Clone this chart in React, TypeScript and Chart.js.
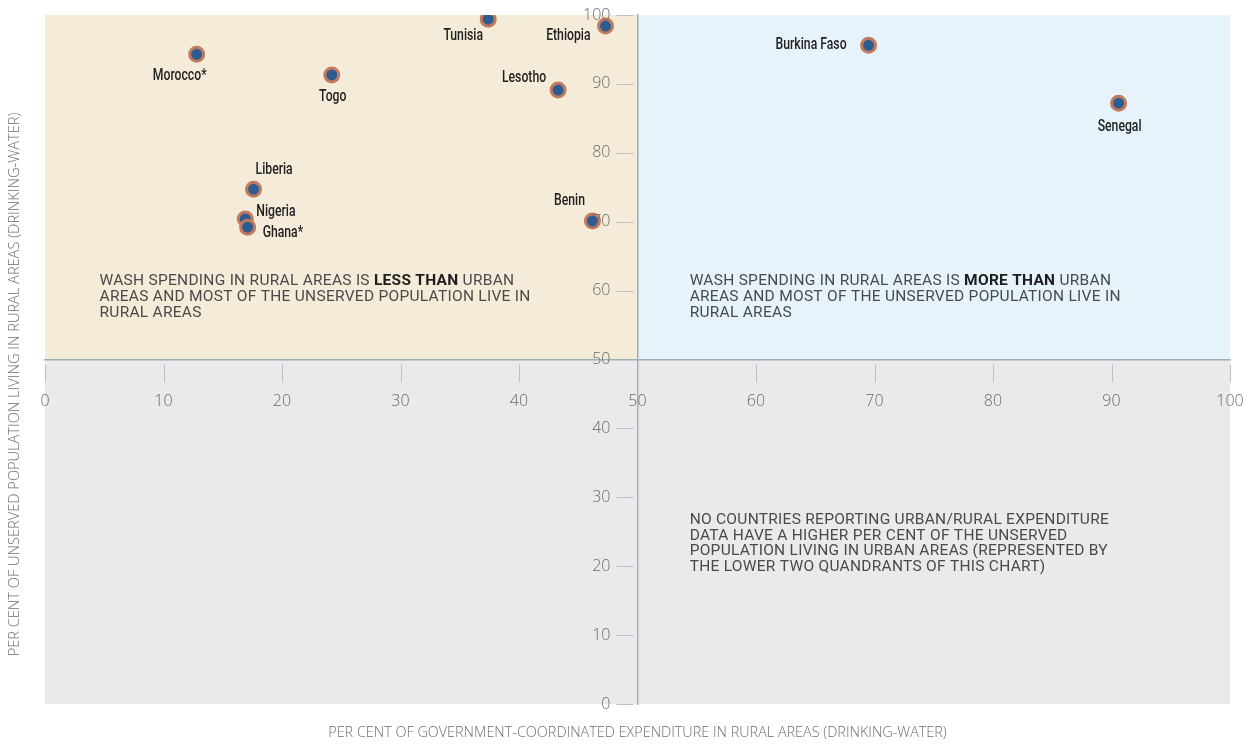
import React, { useEffect, useRef } from 'react';
import { Chart, registerables } from 'chart.js';

Chart.register(...registerables);

// ---- Data ----
const countries = ['Morocco*', 'Togo', 'Liberia', 'Nigeria', 'Ghana*', 'Tunisia', 'Ethiopia', 'Lesotho', 'Benin', 'Burkina Faso', 'Senegal'];
const ruralExpenditure = [12.8, 24.2, 17.6, 16.9, 17.1, 37.4, 47.3, 43.3, 46.2, 69.5, 90.6];
const unservedRural = [94.3, 91.3, 74.7, 70.4, 69.2, 99.4, 98.4, 89.1, 70.1, 95.6, 87.2];
const xTickValues = [0, 10, 20, 30, 40, 50, 60, 70, 80, 90, 100];
const yTickValues = [0, 10, 20, 30, 40, 50, 60, 70, 80, 90, 100];
const xTitle = 'PER CENT OF GOVERNMENT-COORDINATED EXPENDITURE IN RURAL AREAS (DRINKING-WATER)';
const yTitle = 'PER CENT OF UNSERVED POPULATION LIVING IN RURAL AREAS (DRINKING-WATER)';
const noteLeft = [
  [['WASH SPENDING IN RURAL AREAS IS ', false], ['LESS THAN', true], [' URBAN', false]],
  [['AREAS AND MOST OF THE UNSERVED POPULATION LIVE IN', false]],
  [['RURAL AREAS', false]],
];
const noteRight = [
  [['WASH SPENDING IN RURAL AREAS IS ', false], ['MORE THAN', true], [' URBAN', false]],
  [['AREAS AND MOST OF THE UNSERVED POPULATION LIVE IN', false]],
  [['RURAL AREAS', false]],
];
const noteBottom = [
  [['NO COUNTRIES REPORTING URBAN/RURAL EXPENDITURE', false]],
  [['DATA HAVE A HIGHER PER CENT OF THE UNSERVED', false]],
  [['POPULATION LIVING IN URBAN AREAS (REPRESENTED BY', false]],
  [['THE LOWER TWO QUANDRANTS OF THIS CHART)', false]],
];

// ---- Layout of labels (pixel offsets from point, alignment) ----
const labelPlacement: [number, number, CanvasTextAlign][] = [
  [-17, 22, 'center'],
  [1, 22, 'center'],
  [2, -19, 'left'],
  [11, -7, 'left'],
  [15, 6, 'left'],
  [-25, 17, 'center'],
  [-15, 10, 'right'],
  [-12, -12, 'right'],
  [-23, -20, 'center'],
  [-22, 0, 'right'],
  [1, 24, 'center'],
];

const COLORS = {
  beige: '#f4ebd9',
  blue: '#e6f3fa',
  gray: '#eaeaec',
  axis: '#9db2b6',
  tick: '#b9c2c4',
  tickLabel: '#6a6a6a',
  note: '#4a4a4a',
  label: '#222222',
  title: '#6e6e6e',
  pointFill: '#2d5d90',
  pointBorder: '#c27a5e',
};

const LABEL_FONT = 'Roboto, sans-serif';
const NOTE_FONT = 'Roboto, "DejaVu Sans", sans-serif';
const TICK_FONT = '"Open Sans", Lato, sans-serif';

function drawNote(ctx: CanvasRenderingContext2D, lines: any[], x: number, y: number) {
  const size = 15.5;
  const lh = 15.7;
  ctx.textBaseline = 'middle';
  ctx.textAlign = 'left';
  (ctx as any).letterSpacing = '0.27px';
  lines.forEach((segs: any[], i: number) => {
    let cx = x;
    segs.forEach(([txt, bold]: [string, boolean]) => {
      ctx.font = `${bold ? 'bold ' : ''}${size}px ${NOTE_FONT}`;
      ctx.fillStyle = bold ? '#1e1e1e' : COLORS.note;
      ctx.fillText(txt, cx, y + i * lh);
      cx += ctx.measureText(txt).width;
    });
  });
  (ctx as any).letterSpacing = '0px';
}

const quadrantPlugin = {
  id: 'quadrants',
  beforeDraw(chart: any) {
    const { ctx, chartArea, scales } = chart;
    const xs = scales.x, ys = scales.y;
    const midX = xs.getPixelForValue(50);
    const midY = ys.getPixelForValue(50);
    ctx.save();
    ctx.fillStyle = COLORS.gray;
    ctx.fillRect(chartArea.left, midY, chartArea.right - chartArea.left, chartArea.bottom - midY);
    ctx.fillStyle = COLORS.beige;
    ctx.fillRect(chartArea.left, chartArea.top, midX - chartArea.left, midY - chartArea.top);
    ctx.fillStyle = COLORS.blue;
    ctx.fillRect(midX, chartArea.top, chartArea.right - midX, midY - chartArea.top);

    // tick marks
    ctx.strokeStyle = COLORS.tick;
    ctx.lineWidth = 1;
    xTickValues.forEach((v) => {
      if (v === 50) return;
      const px = Math.round(xs.getPixelForValue(v)) + 0.5;
      ctx.beginPath();
      ctx.moveTo(px, midY + 5);
      ctx.lineTo(px, midY + 23);
      ctx.stroke();
    });
    yTickValues.forEach((v) => {
      if (v === 50) return;
      const py = Math.round(ys.getPixelForValue(v)) + 0.5;
      ctx.beginPath();
      ctx.moveTo(midX - 21, py);
      ctx.lineTo(midX - 4, py);
      ctx.stroke();
    });

    // notes
    drawNote(ctx, noteLeft, xs.getPixelForValue(4.6), ys.getPixelForValue(61.35));
    drawNote(ctx, noteRight, xs.getPixelForValue(54.4), ys.getPixelForValue(61.35));
    drawNote(ctx, noteBottom, xs.getPixelForValue(54.4), ys.getPixelForValue(26.7));

    // axis titles
    ctx.fillStyle = COLORS.title;
    ctx.font = `300 14.4px ${TICK_FONT}`;
    ctx.textAlign = 'center';
    ctx.textBaseline = 'middle';
    ctx.fillText(xTitle, midX, chartArea.bottom + 29);
    ctx.save();
    ctx.translate(15, (chartArea.top + chartArea.bottom) / 2 + 25);
    ctx.rotate(-Math.PI / 2);
    ctx.font = `300 14.6px ${TICK_FONT}`;
    ctx.fillText(yTitle, 0, 0);
    ctx.restore();
    ctx.restore();
  },
  afterDraw(chart: any) {
    const { ctx, scales } = chart;
    const xs = scales.x, ys = scales.y;
    const midX = xs.getPixelForValue(50);
    const midY = ys.getPixelForValue(50);
    ctx.save();
    ctx.fillStyle = COLORS.tickLabel;
    ctx.font = `300 16px ${TICK_FONT}`;
    ctx.textBaseline = 'middle';
    ctx.textAlign = 'center';
    xs.ticks.forEach((t: any) => {
      ctx.fillText(String(t.value), xs.getPixelForValue(t.value), midY + 42);
    });
    ctx.textAlign = 'right';
    ys.ticks.forEach((t: any) => {
      ctx.fillText(String(t.value), midX - 27, ys.getPixelForValue(t.value));
    });
    ctx.restore();
  },
  afterDatasetsDraw(chart: any) {
    const { ctx } = chart;
    const meta = chart.getDatasetMeta(0);
    ctx.save();
    ctx.font = `500 16.5px ${LABEL_FONT}`;
    ctx.fillStyle = COLORS.label;
    ctx.textBaseline = 'middle';
    const sx = 0.74;
    meta.data.forEach((pt: any, i: number) => {
      const [dx, dy, align] = labelPlacement[i];
      ctx.save();
      ctx.translate(pt.x + dx, pt.y + dy);
      ctx.scale(sx, 1);
      ctx.textAlign = align;
      ctx.fillText(countries[i], 0, 0);
      ctx.restore();
    });
    ctx.restore();
  },
};

export default function App() {
  const canvasRef = useRef<HTMLCanvasElement | null>(null);

  useEffect(() => {
    if (!canvasRef.current) return;
    const chart = new Chart(canvasRef.current, {
      type: 'scatter',
      data: {
        datasets: [
          {
            label: 'Countries',
            data: countries.map((_, i) => ({ x: ruralExpenditure[i], y: unservedRural[i] })),
            backgroundColor: COLORS.pointFill,
            borderColor: COLORS.pointBorder,
            borderWidth: 3,
            pointRadius: 7,
            pointHoverRadius: 7,
          },
        ],
      },
      options: {
        animation: false,
        responsive: true,
        maintainAspectRatio: false,
        layout: { padding: { left: 45, top: 15, right: 20, bottom: 43 } },
        plugins: {
          legend: { display: false },
          tooltip: { enabled: false },
        },
        scales: {
          x: {
            type: 'linear',
            min: 0,
            max: 100,
            position: { y: 50 } as any,
            afterBuildTicks: (s: any) => { s.ticks = xTickValues.map((v) => ({ value: v })); },
            grid: { display: false, drawTicks: false },
            border: { display: true, color: COLORS.axis, width: 1.5 },
            ticks: { display: false },
          },
          y: {
            type: 'linear',
            min: 0,
            max: 100,
            position: { x: 50 } as any,
            afterBuildTicks: (s: any) => { s.ticks = yTickValues.map((v) => ({ value: v })); },
            grid: { display: false, drawTicks: false },
            border: { display: true, color: COLORS.axis, width: 1.5 },
            ticks: { display: false },
          },
        },
      },
      plugins: [quadrantPlugin],
    });
    return () => chart.destroy();
  }, []);

  return (
    <div style={{ position: 'absolute', left: 0, top: 0, width: 1250, height: 747, background: '#fff' }}>
      <canvas ref={canvasRef} />
    </div>
  );
}
